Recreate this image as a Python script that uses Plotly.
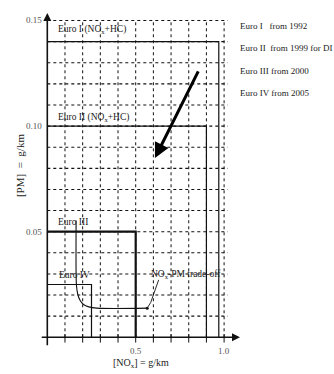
import plotly.graph_objects as go

# Emission limit boxes: (name, NOx limit, PM limit)
stage_names = ["Euro I", "Euro II", "Euro III", "Euro IV"]
nox_limits = [0.97, 0.90, 0.50, 0.25]
pm_limits = [0.14, 0.10, 0.05, 0.025]
stage_years = ["Euro I &nbsp;&nbsp;from 1992", "Euro II &nbsp;from 1999 for DI",
               "Euro III from 2000", "Euro IV from 2005"]

# NOx-PM trade-off curve
tradeoff_nox = [0.163, 0.163, 0.165, 0.172, 0.185, 0.205, 0.235, 0.28, 0.565]
tradeoff_pm = [0.0553, 0.030, 0.0245, 0.0205, 0.0175, 0.0155, 0.0144, 0.0138, 0.0138]
leader_nox = [0.565, 0.585, 0.63]
leader_pm = [0.0138, 0.0165, 0.0272]

# Grid and ticks
x_grid = [0.1 * i for i in range(1, 11)]
y_grid = [0.01 * i for i in range(1, 16)]
x_tick_vals = [0.5, 1.0]
x_tick_text = ["0.5", "1.0"]
y_tick_vals = [0.05, 0.10, 0.15]
y_tick_text = ["0.05", "0.10", "0.15"]

SERIF = "Liberation Serif, Times New Roman, serif"
fig = go.Figure()

# dotted grid
for gx in x_grid:
    fig.add_trace(go.Scatter(x=[gx, gx], y=[0, 0.15], mode="lines",
                             line=dict(color="#111", width=1, dash="dot"),
                             hoverinfo="skip", showlegend=False))
for gy in y_grid:
    fig.add_trace(go.Scatter(x=[0, 1.02], y=[gy, gy], mode="lines",
                             line=dict(color="#111", width=1.1, dash="dot"),
                             hoverinfo="skip", showlegend=False))

# limit boxes
for name, nx, pm in zip(stage_names, nox_limits, pm_limits):
    w = 2.2 if name == "Euro III" else 1.2
    fig.add_trace(go.Scatter(x=[0, nx, nx], y=[pm, pm, 0], mode="lines",
                             line=dict(color="#111", width=w),
                             hoverinfo="skip", showlegend=False))

# trade-off curve and leader
fig.add_trace(go.Scatter(x=tradeoff_nox, y=tradeoff_pm, mode="lines",
                         line=dict(color="#111", width=1.1, shape="spline"),
                         hoverinfo="skip", showlegend=False))
fig.add_trace(go.Scatter(x=leader_nox, y=leader_pm, mode="lines",
                         line=dict(color="#111", width=0.9),
                         hoverinfo="skip", showlegend=False))
fig.add_trace(go.Scatter(x=[leader_nox[0]], y=[leader_pm[0]], mode="markers",
                         marker=dict(color="#111", size=3),
                         hoverinfo="skip", showlegend=False))

# x-axis ticks
for gx in x_grid:
    fig.add_trace(go.Scatter(x=[gx, gx], y=[-0.0025, 0.0015], mode="lines",
                             line=dict(color="#111", width=1),
                             hoverinfo="skip", showlegend=False))

# axes with arrowheads
fig.add_annotation(x=1.09, y=0, ax=-0.04, ay=0, xref="x", yref="y",
                   axref="x", ayref="y", showarrow=True, arrowhead=2,
                   arrowsize=1, arrowwidth=1.6, arrowcolor="#111", text="")
fig.add_annotation(x=0, y=0.1535, ax=0, ay=-0.0045, xref="x", yref="y",
                   axref="x", ayref="y", showarrow=True, arrowhead=2,
                   arrowsize=1, arrowwidth=1.6, arrowcolor="#111", text="")

# thick direction arrow
fig.add_annotation(x=0.609, y=0.0849, ax=0.858, ay=0.1266, xref="x", yref="y",
                   axref="x", ayref="y", showarrow=True, arrowhead=2,
                   arrowsize=1, arrowwidth=3, arrowcolor="#000", text="")

# box labels
box_labels = ["Euro I (NO<sub>x</sub>+HC)", "Euro II (NO<sub>x</sub>+HC)",
              "Euro III", "Euro IV", "NO<sub>x</sub>-PM trade-off"]
box_lx = [0.049, 0.049, 0.049, 0.055, 0.575]
box_ly = [0.1455, 0.1043, 0.0546, 0.0295, 0.0295]
for t, lx, ly in zip(box_labels, box_lx, box_ly):
    fig.add_annotation(x=lx, y=ly, text=t, showarrow=False, xanchor="left",
                       yanchor="middle", font=dict(family=SERIF, size=9.5, color="#222"))

# year legend on the right
year_y = [0.1473, 0.1370, 0.1261, 0.1157]
for t, ly in zip(stage_years, year_y):
    fig.add_annotation(x=1.0786, y=ly, text=t, showarrow=False,
                       xanchor="left", yanchor="middle",
                       font=dict(family=SERIF, size=9, color="#222"))

# tick labels
for v, t in zip(x_tick_vals, x_tick_text):
    fig.add_annotation(x=v, y=-0.0066, text=t, showarrow=False,
                       font=dict(family=SERIF, size=9, color="#555"))
for v, t in zip(y_tick_vals, y_tick_text):
    fig.add_annotation(x=-0.019, y=v, text=t, showarrow=False, xanchor="right",
                       font=dict(family=SERIF, size=9, color="#555"))

# axis titles
fig.add_annotation(x=0.53, y=-0.0125, text="[NO<sub>x</sub>] = g/km", showarrow=False,
                   font=dict(family=SERIF, size=10, color="#222"))
fig.add_annotation(x=-0.154, y=0.0811, text="[PM]  =  g/km", showarrow=False,
                   textangle=-90, font=dict(family=SERIF, size=11, color="#222"))

fig.update_layout(
    width=334, height=374, margin=dict(l=0, r=0, t=0, b=0),
    paper_bgcolor="white", plot_bgcolor="white",
    xaxis=dict(range=[-0.2675, 1.6216], visible=False, fixedrange=True),
    yaxis=dict(range=[-0.01738, 0.1597], visible=False, fixedrange=True),
    showlegend=False,
)

fig.write_html("out.html")
